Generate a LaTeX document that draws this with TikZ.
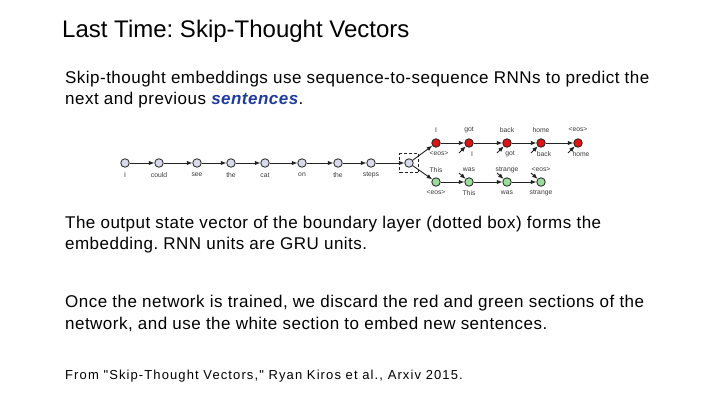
\documentclass[tikz,border=0pt]{standalone}
\usepackage{fontspec}
\setmainfont{Liberation Sans}
\newfontfamily\bodyfont[LetterSpace=2.8]{Liberation Sans}
\newfontfamily\citefont[LetterSpace=8.5]{Liberation Sans}
\frenchspacing
\usetikzlibrary{arrows.meta, calc}
\definecolor{cUnit}{HTML}{D9D9EC}
\definecolor{cDec}{HTML}{DD1414}
\definecolor{cPrev}{HTML}{9ADC9A}
\definecolor{cLine}{HTML}{222222}
\definecolor{cWord}{HTML}{3A3A3A}
\definecolor{cEmph}{HTML}{1E3C9E}

\begin{document}
\begin{tikzpicture}[
    x=1pt, y=-1pt,
    unit/.style={circle, draw=cLine, line width=0.8pt, fill=cUnit,
                 minimum size=8.5pt, inner sep=0pt},
    dec/.style={unit, fill=cDec},
    prev/.style={unit, fill=cPrev},
    word/.style={font=\fontsize{6.8}{7}\selectfont, text=cWord, inner sep=1pt},
    sig/.style={-{Latex[length=5.5pt, width=4.5pt]}, line width=0.9pt, cLine},
    boundary/.style={draw=cLine, densely dashed, line width=1pt,
                     minimum size=19pt, inner sep=0pt},
    para/.style={font=\bodyfont\fontsize{17}{21.5}\selectfont, align=left,
                 anchor=base west, inner sep=0pt},
]
\useasboundingbox (0,0) rectangle (720,405);

% ===================== Titulo =====================
\node[anchor=base west, inner sep=0pt, font=\fontsize{24}{28}\selectfont]
      (title) at (62,37) {Last Time: Skip-Thought Vectors};

% (base = linea de base de la ultima linea)
\node[para] (intro) at (65,104.5)
      {Skip-thought embeddings use sequence-to-sequence RNNs to predict the\\
       next and previous \textcolor{cEmph}{\textbf{\textit{sentences}}}.};

% ===================== Codificador =====================
\foreach \x/\w [count=\i] in {125/I, 159/could, 197/see, 231/the, 265/cat,
                              302/on, 338/the, 371/steps} {
    \node[unit] (e\i) at (\x,163) {};
    \node[word] (we\i) at (\x,175) {\w};
}
\node[unit] (e9) at (409,163) {};
\node[boundary] (box) at (e9) {};

\foreach \i [evaluate=\i as \j using int(\i+1)] in {1,...,8} {
    \draw[sig] (e\i) -- (e\j);
}

% ===================== Oracion siguiente =====================
\foreach \x/\up/\dn [count=\i] in {436/I/{<eos>}, 469/got/I, 507/back/got,
                                   541/home/back, 578/{<eos>}/home} {
    \node[dec] (r\i) at (\x,143) {};
    \node[word] (ru\i) at (\x,130) {\up};
    \node[word] (rd\i) at (\x+3,154) {\dn};
}

% ===================== Oracion anterior =====================
\foreach \x/\up/\dn [count=\i] in {436/This/{<eos>}, 469/was/This,
                                   507/strange/was, 541/{<eos>}/strange} {
    \node[prev] (g\i) at (\x,182) {};
    \node[word] (gu\i) at (\x,170) {\up};
    \node[word] (gd\i) at (\x,193) {\dn};
}

\draw[sig] (e9) -- (r1);
\draw[sig] (e9) -- (g1);

\foreach \i [evaluate=\i as \j using int(\i+1)] in {1,...,4} {
    \draw[sig] (r\i) -- (r\j);
    \coordinate (ri\j) at ($(r\j)+(-10,10)$);
    \draw[sig] (ri\j) -- (r\j);
}
\foreach \i [evaluate=\i as \j using int(\i+1)] in {1,...,3} {
    \draw[sig] (g\i) -- (g\j);
    \coordinate (gi\j) at ($(g\j)+(-10,-9)$);
    \draw[sig] (gi\j) -- (g\j);
}

% ===================== Texto =====================
\node[para] (state) at (65,249.5)
      {The output state vector of the boundary layer (dotted box) forms the\\
       embedding. RNN units are GRU units.};

\node[para] (discard) at (65,329)
      {Once the network is trained, we discard the red and green sections of the\\
       network, and use the white section to embed new sentences.};

\node[anchor=base west, inner sep=0pt, font=\citefont\fontsize{13}{15}\selectfont]
      (cite) at (65,379)
      {From "Skip-Thought Vectors," Ryan Kiros et al., Arxiv 2015.};

\end{tikzpicture}
\end{document}
